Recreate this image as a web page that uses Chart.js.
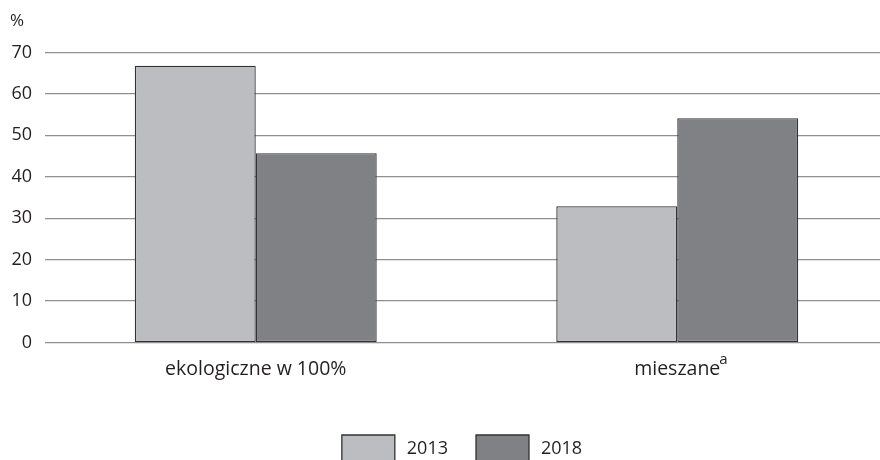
<!DOCTYPE html>
<html lang="pl">
<head>
    <meta charset="UTF-8">
    <title>Ekologiczne vs mieszane</title>
    <script src="https://cdn.jsdelivr.net/npm/chart.js"></script>
    <style>
        html, body { margin: 0; padding: 0; background: #fff; overflow: hidden; }
        /* a little wider than the window: the plot runs off the right edge like the original */
        #wrap { width: 888px; height: 460px; }
    </style>
</head>
<body>
    <div id="wrap"><canvas id="chart"></canvas></div>
    <script>
        // data
        const categories = ['ekologiczne w 100%', 'mieszane'];
        const superscripts = ['', 'a'];
        const years = ['2013', '2018'];
        const values2013 = [66.8, 32.9];
        const values2018 = [45.7, 54.1];
        const yTicks = [0, 10, 20, 30, 40, 50, 60, 70];

        const FONT = "'Open Sans', sans-serif";
        const TEXT = '#231f20';
        const LABEL_SIZE = 19.5;
        const LABEL_PAD = 15;

        // small superscript after a category label
        const supPlugin = {
            id: 'sup',
            afterDraw(chart) {
                const x = chart.scales.x;
                const ctx = chart.ctx;
                ctx.save();
                ctx.fillStyle = TEXT;
                superscripts.forEach((s, i) => {
                    if (!s) return;
                    ctx.font = LABEL_SIZE + 'px ' + FONT;
                    const w = ctx.measureText(categories[i]).width;
                    const cx = x.getPixelForTick(i);
                    const ly = x.top + LABEL_PAD + LABEL_SIZE * 0.6;
                    ctx.font = '15px ' + FONT;
                    ctx.textBaseline = 'middle';
                    ctx.textAlign = 'left';
                    ctx.fillText(s, cx + w / 2 - 1, ly - 10);
                });
                ctx.restore();
            }
        };

        // the legend sits a bit right of centre in the original
        const legendShift = {
            id: 'legendShift',
            afterLayout(chart) {
                chart.legend.left += 13;
                chart.legend.right += 13;
            }
        };

        new Chart(document.getElementById('chart'), {
            type: 'bar',
            data: {
                labels: categories,
                datasets: [{
                    label: years[0],
                    data: values2013,
                    backgroundColor: '#bcbdc0',
                    borderColor: '#333333',
                    borderWidth: 1.3,
                    borderSkipped: false
                }, {
                    label: years[1],
                    data: values2018,
                    backgroundColor: '#808184',
                    borderColor: '#333333',
                    borderWidth: 1.3,
                    borderSkipped: false
                }]
            },
            options: {
                responsive: true,
                maintainAspectRatio: false,
                animation: false,
                layout: { padding: { left: 10, right: 0, top: 4, bottom: -12 } },
                datasets: { bar: { barPercentage: 1, categoryPercentage: 0.574 } },
                scales: {
                    x: {
                        grid: { display: false, drawTicks: false },
                        border: { display: false },
                        ticks: { color: TEXT, font: { family: FONT, size: LABEL_SIZE }, padding: LABEL_PAD },
                        afterFit: axis => { axis.height += 11; }
                    },
                    y: {
                        min: 0,
                        max: 70,
                        afterBuildTicks: axis => { axis.ticks = yTicks.map(v => ({ value: v })); },
                        afterFit: axis => { axis.width = 35; },
                        grid: { color: '#8f8f8f', lineWidth: 1.3, drawTicks: false },
                        border: { display: false },
                        ticks: { color: TEXT, font: { family: FONT, size: 18 }, padding: 13 }
                    }
                },
                plugins: {
                    title: {
                        display: true,
                        text: '%',
                        align: 'start',
                        color: TEXT,
                        font: { family: FONT, size: 17, weight: 'normal' },
                        padding: { top: 7, bottom: 21 }
                    },
                    legend: {
                        position: 'bottom',
                        labels: {
                            color: TEXT,
                            font: { family: FONT, size: 18 },
                            boxWidth: 53,
                            boxHeight: 27,
                            padding: 28,
                            generateLabels: chart => {
                                const items = Chart.defaults.plugins.legend.labels.generateLabels(chart);
                                items.forEach(it => { it.text = '\u2009' + it.text; });
                                return items;
                            }
                        }
                    },
                    tooltip: { enabled: false }
                }
            },
            plugins: [supPlugin, legendShift]
        });
    </script>
</body>
</html>
